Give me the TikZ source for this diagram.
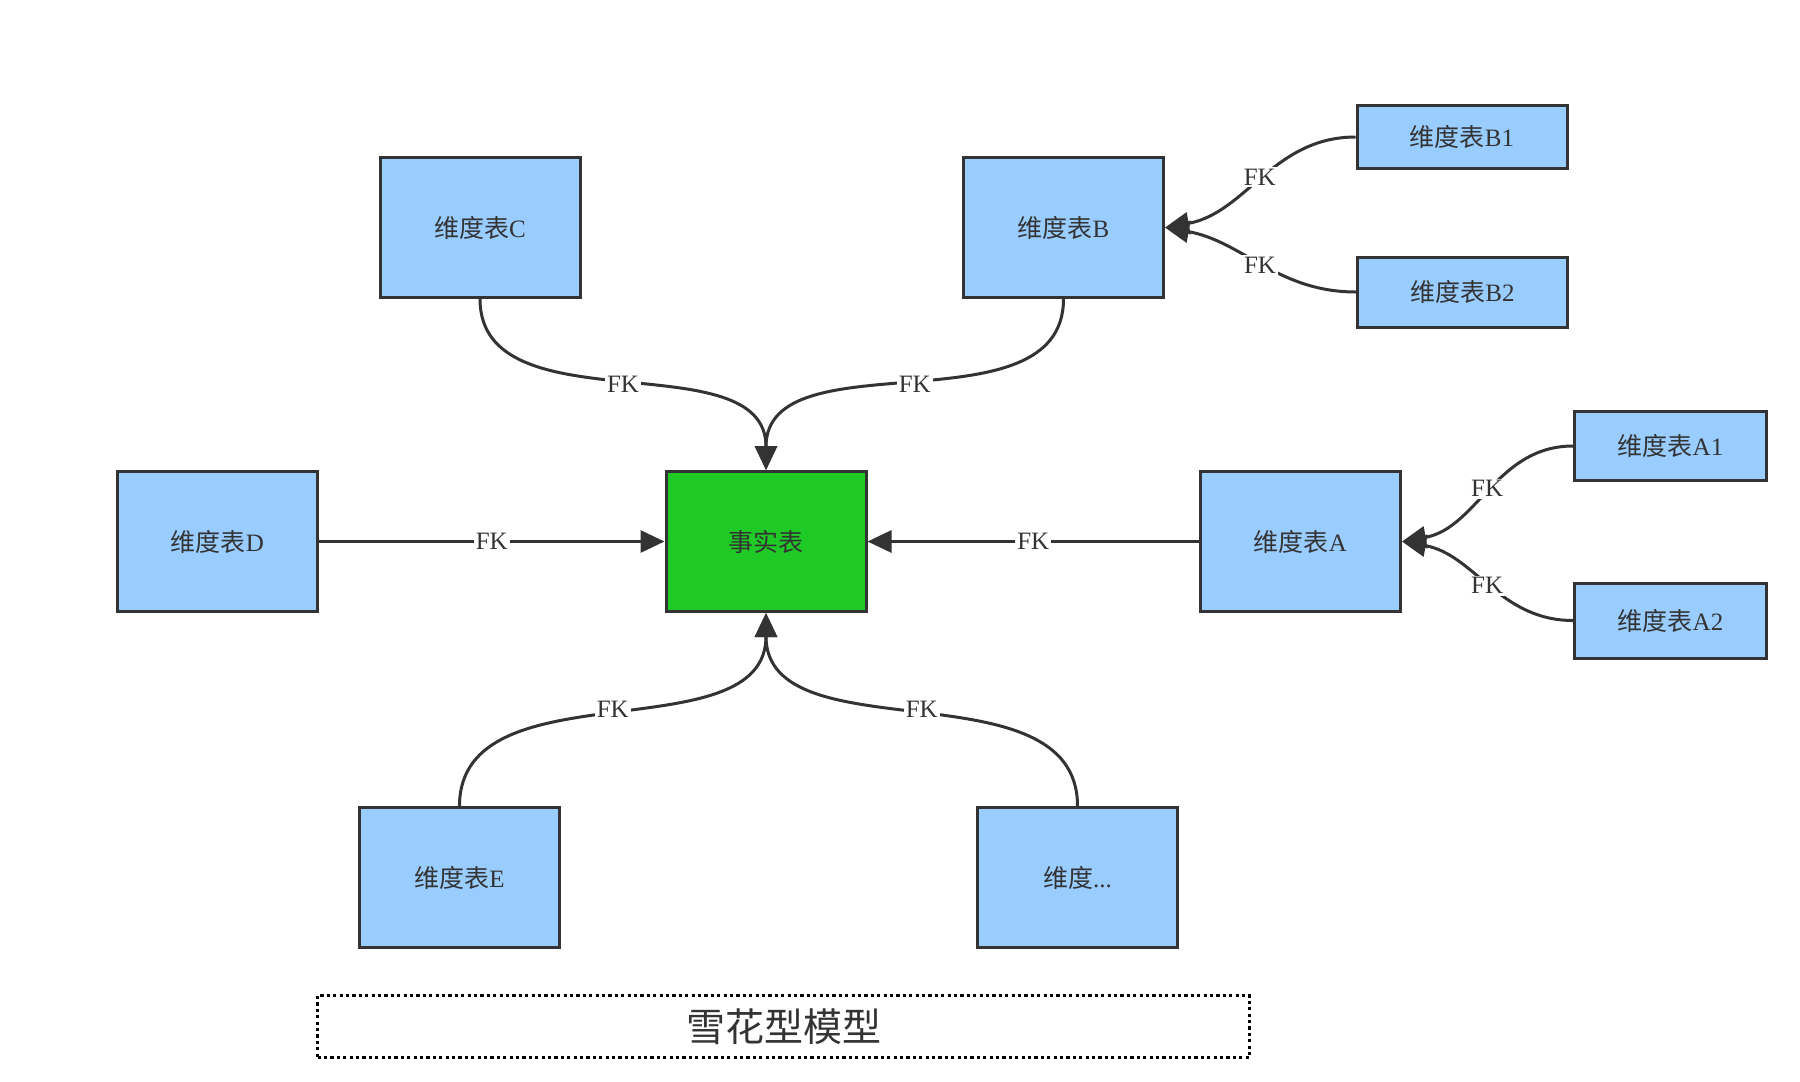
\documentclass[tikz,border=0pt]{standalone}
\usepackage{fontspec}
\setmainfont{Liberation Serif}
\newfontfamily\cjk{Noto Sans CJK SC}
\usetikzlibrary{arrows.meta}
\definecolor{dimblue}{RGB}{153,204,255}
\definecolor{factgreen}{RGB}{31,201,38}
\definecolor{edgegray}{RGB}{51,51,51}
\newcommand{\wdb}{{\cjk 维度表}}

\tikzset{
  dimbox/.style={draw=edgegray, line width=1.5pt, fill=dimblue, text=edgegray,
    minimum width=100pt, minimum height=70pt, inner sep=0pt,
    font=\fontsize{12.5}{14}\selectfont},
  subbox/.style={dimbox, minimum width=96pt, minimum height=33pt},
  factbox/.style={dimbox, fill=factgreen},
  fk/.style={draw=edgegray, line width=1.5pt, -{Triangle[length=12pt,width=11pt]}},
  fklabel/.style={fill=white, text=edgegray, inner sep=1pt,
    font=\fontsize{12.5}{14}\selectfont}
}

\begin{document}
\begin{tikzpicture}[x=0.5pt, y=-0.5pt]
  \useasboundingbox (0,0) rectangle (1800,1082);

  % Fact table and dimension tables
  \node[factbox] (fact) at (766,541.5) {{\cjk 事实表}};
  \node[dimbox] (dimC) at (480,227.5) {\wdb C};
  \node[dimbox] (dimB) at (1063.5,227.5) {\wdb B};
  \node[dimbox] (dimD) at (217.5,541.5) {\wdb D};
  \node[dimbox] (dimA) at (1300.5,541.5) {\wdb A};
  \node[dimbox] (dimE) at (459.5,877.5) {\wdb E};
  \node[dimbox] (dimX) at (1077.5,877.5) {{\cjk 维度}...};

  % Sub-dimension tables
  \node[subbox, minimum width=105pt, minimum height=31.5pt] (dimB1) at (1462,137) {\wdb B1};
  \node[subbox, minimum width=105pt, minimum height=35pt] (dimB2) at (1462.5,292) {\wdb B2};
  \node[subbox, minimum height=34.5pt] (dimA1) at (1670.5,446) {\wdb A1};
  \node[subbox, minimum height=37.5pt] (dimA2) at (1670.5,620.5) {\wdb A2};

  % Foreign keys to the fact table
  \draw[fk] (dimC.south) to[out=-90, in=90] node[fklabel] {FK} (fact.north);
  \draw[fk] (dimB.south) to[out=-90, in=90] node[fklabel] {FK} (fact.north);
  \draw[fk] (dimD.east) -- node[fklabel] {FK} (fact.west);
  \draw[fk] (dimA.west) -- node[fklabel] {FK} (fact.east);
  \draw[fk] (dimE.north) to[out=90, in=-90] node[fklabel] {FK} (fact.south);
  \draw[fk] (dimX.north) to[out=90, in=-90] node[fklabel] {FK} (fact.south);

  % Foreign keys of the snowflake branches
  \draw[fk] (dimB1.west) to[out=180, in=10] node[fklabel] {FK} (dimB.east);
  \draw[fk] (dimB2.west) to[out=180, in=-10] node[fklabel] {FK} (dimB.east);
  \draw[fk] (dimA1.west) to[out=180, in=10] node[fklabel] {FK} (dimA.east);
  \draw[fk] (dimA2.west) to[out=180, in=-10] node[fklabel] {FK} (dimA.east);

  % Title
  \node[draw=black, line width=1.2pt, dash pattern=on 1.6pt off 1.6pt,
    minimum width=466pt, minimum height=31pt, inner sep=0pt, text=edgegray,
    font=\cjk\fontsize{19.5}{22}\selectfont] (title) at (783.5,1026.5) {雪花型模型};
\end{tikzpicture}
\end{document}
